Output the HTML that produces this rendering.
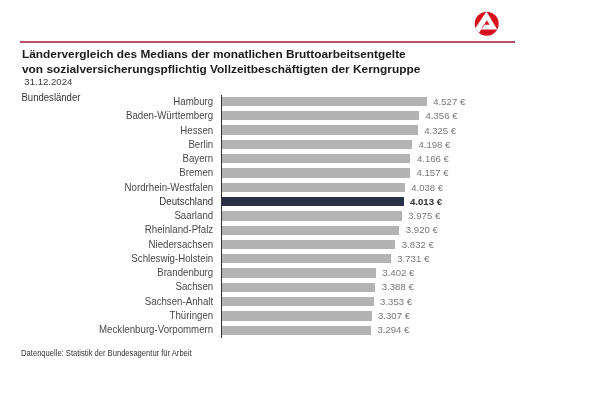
<!DOCTYPE html>
<html lang="de"><head><meta charset="utf-8"><title>Ländervergleich</title>
<style>
html,body{margin:0;padding:0;background:#fff}
body{width:600px;height:400px;position:relative;overflow:hidden;font-family:"Liberation Sans",sans-serif;color:#222}
#page{position:absolute;left:0;top:0;width:600px;height:400px;background:#fff;will-change:transform}
.abs{position:absolute;white-space:nowrap;line-height:1}
.rule{position:absolute;left:20px;top:40.5px;width:494.7px;height:2px;background:linear-gradient(#e895a6,#a42c46 38%,#a42c46 62%,#e895a6);border-right:.8px solid #6a5a60;box-sizing:border-box}
.t{font-weight:bold;font-size:11.85px;color:#1a1a1a;left:22px;transform:scaleY(.94);transform-origin:0 80%}
.lab{font-size:9.7px;color:#484848;text-align:right;left:0;width:213.2px;transform:scaleY(1.06);transform-origin:0 85%}
.val{font-size:9.6px;color:#787878}
.bar{position:absolute;background:#b3b3b3;height:9.3px}
.dk{background:#2b3247}
.axis{position:absolute;left:220.6px;top:94.6px;width:1.3px;height:243.1px;background:#333}
</style></head><body><div id="page">
<svg class="abs" style="left:472px;top:9px" width="30" height="30" viewBox="0 0 30 30">
<defs><clipPath id="cc"><circle cx="14.7" cy="14.85" r="12"/></clipPath></defs>
<circle cx="14.7" cy="14.85" r="12" fill="#d9111f"/>
<g clip-path="url(#cc)">
<path d="M14.5 2.4 L-1.4 26 L5.57 26 L9.18 20.44 L25.2 20.44 Z M14.8 11.3 L17.6 15.8 L12.0 15.8 Z" fill="#fff" fill-rule="evenodd"/>
<path d="M12.4 15.5 L9.9 19.4" stroke="#d9111f" stroke-width="0.8" fill="none"/>
</g>
</svg>
<div class="rule"></div>
<div class="abs t" style="top:48.5px">Ländervergleich des Medians der monatlichen Bruttoarbeitsentgelte</div>
<div class="abs t" style="top:63.5px;font-size:11.88px">von sozialversicherungspflichtig Vollzeitbeschäftigten der Kerngruppe</div>
<div class="abs" style="left:24.3px;top:77.1px;font-size:9.6px;color:#3c3c3c">31.12.2024</div>
<div class="abs" style="left:21.5px;top:92.5px;font-size:9.55px;color:#333;transform:scaleY(1.07);transform-origin:0 80%">Bundesländer</div>

<div class="abs lab" style="top:97.20px">Hamburg</div>
<div class="bar" style="left:221.8px;top:96.85px;width:204.98px"></div>
<div class="abs val" style="left:433.28px;top:97.20px">4.527 €</div>
<div class="abs lab" style="top:111.45px">Baden-Württemberg</div>
<div class="bar" style="left:221.8px;top:111.15px;width:197.24px"></div>
<div class="abs val" style="left:425.54px;top:111.45px">4.356 €</div>
<div class="abs lab" style="top:125.70px">Hessen</div>
<div class="bar" style="left:221.8px;top:125.45px;width:195.84px"></div>
<div class="abs val" style="left:424.14px;top:125.70px">4.325 €</div>
<div class="abs lab" style="top:139.95px">Berlin</div>
<div class="bar" style="left:221.8px;top:139.75px;width:190.09px"></div>
<div class="abs val" style="left:418.39px;top:139.95px">4.198 €</div>
<div class="abs lab" style="top:154.20px">Bayern</div>
<div class="bar" style="left:221.8px;top:154.05px;width:188.64px"></div>
<div class="abs val" style="left:416.94px;top:154.20px">4.166 €</div>
<div class="abs lab" style="top:168.45px">Bremen</div>
<div class="bar" style="left:221.8px;top:168.35px;width:188.23px"></div>
<div class="abs val" style="left:416.53px;top:168.45px">4.157 €</div>
<div class="abs lab" style="top:182.70px">Nordrhein-Westfalen</div>
<div class="bar" style="left:221.8px;top:182.65px;width:182.84px"></div>
<div class="abs val" style="left:411.14px;top:182.70px">4.038 €</div>
<div class="abs lab" style="top:196.95px;color:#333">Deutschland</div>
<div class="bar dk" style="left:221.8px;top:196.95px;width:181.71px"></div>
<div class="abs val" style="left:410.01px;top:196.95px;color:#333;font-weight:bold">4.013 €</div>
<div class="abs lab" style="top:211.20px">Saarland</div>
<div class="bar" style="left:221.8px;top:211.25px;width:179.99px"></div>
<div class="abs val" style="left:408.29px;top:211.20px">3.975 €</div>
<div class="abs lab" style="top:225.45px">Rheinland-Pfalz</div>
<div class="bar" style="left:221.8px;top:225.55px;width:177.50px"></div>
<div class="abs val" style="left:405.80px;top:225.45px">3.920 €</div>
<div class="abs lab" style="top:239.70px">Niedersachsen</div>
<div class="bar" style="left:221.8px;top:239.85px;width:173.51px"></div>
<div class="abs val" style="left:401.81px;top:239.70px">3.832 €</div>
<div class="abs lab" style="top:253.95px">Schleswig-Holstein</div>
<div class="bar" style="left:221.8px;top:254.15px;width:168.94px"></div>
<div class="abs val" style="left:397.24px;top:253.95px">3.731 €</div>
<div class="abs lab" style="top:268.20px">Brandenburg</div>
<div class="bar" style="left:221.8px;top:268.45px;width:154.04px"></div>
<div class="abs val" style="left:382.34px;top:268.20px">3.402 €</div>
<div class="abs lab" style="top:282.45px">Sachsen</div>
<div class="bar" style="left:221.8px;top:282.75px;width:153.41px"></div>
<div class="abs val" style="left:381.71px;top:282.45px">3.388 €</div>
<div class="abs lab" style="top:296.70px">Sachsen-Anhalt</div>
<div class="bar" style="left:221.8px;top:297.05px;width:151.82px"></div>
<div class="abs val" style="left:380.12px;top:296.70px">3.353 €</div>
<div class="abs lab" style="top:310.95px">Thüringen</div>
<div class="bar" style="left:221.8px;top:311.35px;width:149.74px"></div>
<div class="abs val" style="left:378.04px;top:310.95px">3.307 €</div>
<div class="abs lab" style="top:325.20px">Mecklenburg-Vorpommern</div>
<div class="bar" style="left:221.8px;top:325.65px;width:149.15px"></div>
<div class="abs val" style="left:377.45px;top:325.20px">3.294 €</div>
<div class="axis"></div>
<div class="abs" style="left:21.1px;top:349.9px;font-size:7.6px;color:#333;transform:scaleY(1.12);transform-origin:0 80%">Datenquelle: Statistik der Bundesagentur für Arbeit</div>
</div></body></html>
